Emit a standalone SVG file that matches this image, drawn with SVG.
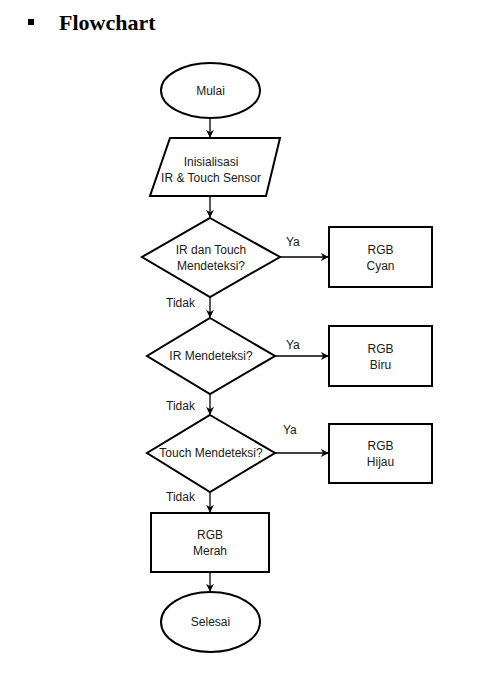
<svg xmlns="http://www.w3.org/2000/svg" width="490" height="683" viewBox="0 0 490 683">
<style>
.s{fill:#fff;stroke:#000;stroke-width:2}
.t{font-family:"Liberation Sans",Arial,sans-serif;font-size:12px;fill:#1a1a1a;text-anchor:middle}
.l{font-family:"Liberation Sans",Arial,sans-serif;font-size:12px;fill:#1a1a1a}
.c{fill:none;stroke:#000;stroke-width:1.3}
</style>
<defs>
<marker id="ah" viewBox="0 0 10 10" refX="9" refY="5" markerWidth="8" markerHeight="8" markerUnits="userSpaceOnUse" orient="auto">
<path d="M0,0 L10,5 L0,10 L3,5 Z" fill="#000"/>
</marker>
</defs>
<rect width="490" height="683" fill="#fff"/>
<g id="title">
<rect x="28" y="19" width="6" height="6" fill="#000"/>
<text x="59" y="30" font-family="Liberation Serif,'Times New Roman',serif" font-size="22" font-weight="bold" fill="#000">Flowchart</text>
</g>
<g id="connectors">
<path class="c" d="M210,118 V137" marker-end="url(#ah)"/>
<path class="c" d="M210,196 V217" marker-end="url(#ah)"/>
<path class="c" d="M280,257 H328" marker-end="url(#ah)"/>
<path class="c" d="M210,297 V317" marker-end="url(#ah)"/>
<path class="c" d="M275,356 H328" marker-end="url(#ah)"/>
<path class="c" d="M210,394 V414" marker-end="url(#ah)"/>
<path class="c" d="M275,453 H328" marker-end="url(#ah)"/>
<path class="c" d="M210,492 V512" marker-end="url(#ah)"/>
<path class="c" d="M210,572 V591" marker-end="url(#ah)"/>
<text class="l" x="286" y="246">Ya</text>
<text class="l" x="286" y="349">Ya</text>
<text class="l" x="283" y="434">Ya</text>
<text class="l" x="166" y="307">Tidak</text>
<text class="l" x="166" y="410">Tidak</text>
<text class="l" x="166" y="501">Tidak</text>
</g>
<g id="mulai">
<ellipse class="s" cx="210.5" cy="90.5" rx="49.5" ry="27.5"/>
<text class="t" x="210.5" y="94.5">Mulai</text>
</g>
<g id="init">
<polygon class="s" points="170,138 280,138 266,196 150,196"/>
<text class="t" x="211" y="166">Inisialisasi</text>
<text class="t" x="211" y="182">IR &amp; Touch Sensor</text>
</g>
<g id="d1">
<polygon class="s" points="210,218 280,257 210,297 142,257"/>
<text class="t" x="211" y="254">IR dan Touch</text>
<text class="t" x="211" y="270">Mendeteksi?</text>
</g>
<g id="cyan">
<rect class="s" x="329" y="227" width="103" height="60"/>
<text class="t" x="380.5" y="254">RGB</text>
<text class="t" x="380.5" y="270">Cyan</text>
</g>
<g id="d2">
<polygon class="s" points="210,318 275,356 210,394 147,356"/>
<text class="t" x="211" y="360">IR Mendeteksi?</text>
</g>
<g id="biru">
<rect class="s" x="329" y="326" width="103" height="60"/>
<text class="t" x="380.5" y="353">RGB</text>
<text class="t" x="380.5" y="369">Biru</text>
</g>
<g id="d3">
<polygon class="s" points="210,415 275,453 210,492 147,453"/>
<text class="t" x="211" y="457">Touch Mendeteksi?</text>
</g>
<g id="hijau">
<rect class="s" x="329" y="424" width="103" height="59"/>
<text class="t" x="380.5" y="450">RGB</text>
<text class="t" x="380.5" y="466">Hijau</text>
</g>
<g id="merah">
<rect class="s" x="151" y="513" width="118" height="59"/>
<text class="t" x="210" y="539">RGB</text>
<text class="t" x="210" y="555">Merah</text>
</g>
<g id="selesai">
<ellipse class="s" cx="210.5" cy="622" rx="49.5" ry="30"/>
<text class="t" x="210.5" y="626">Selesai</text>
</g>
</svg>
